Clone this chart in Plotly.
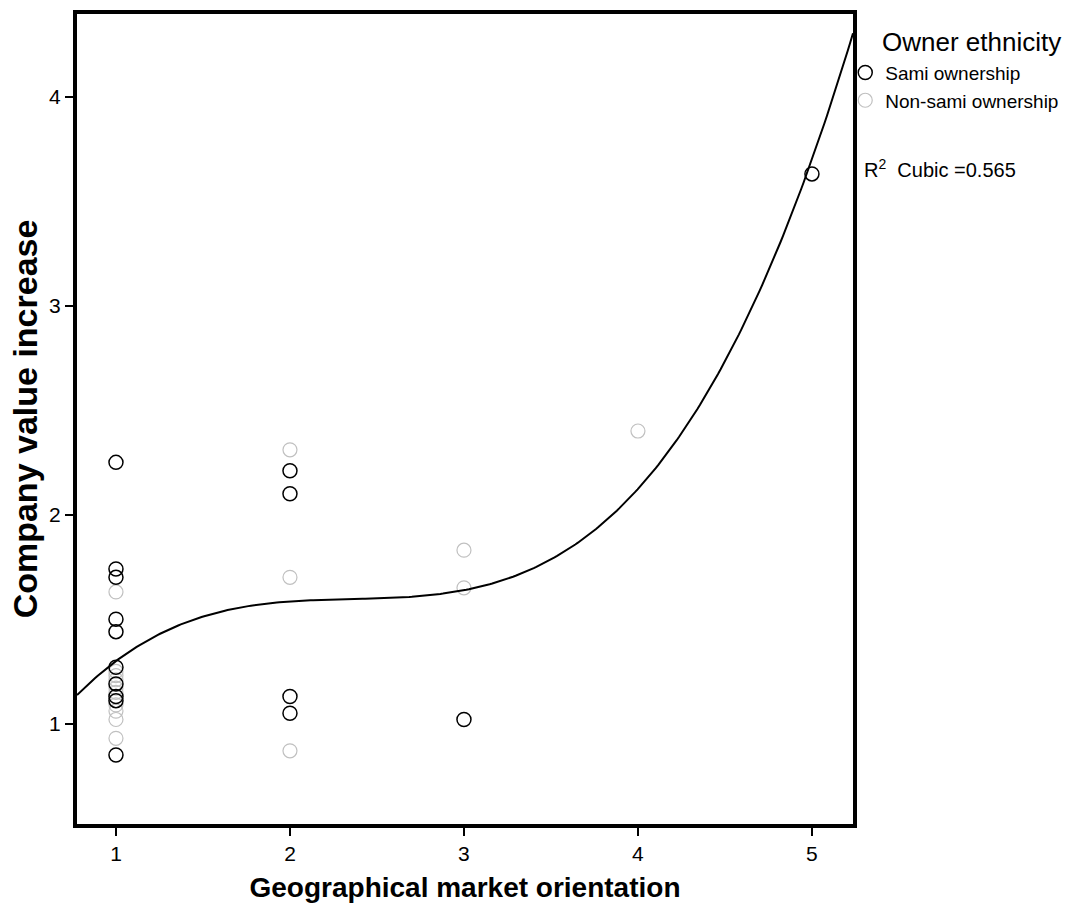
import numpy as np
import plotly.graph_objects as go

# Data
sami_x = [1, 1, 1, 1, 1, 1, 1, 1, 1, 1, 2, 2, 2, 2, 3, 5]
sami_y = [2.25, 1.74, 1.70, 1.50, 1.44, 1.27, 1.19, 1.13, 1.11, 0.85,
          2.21, 2.10, 1.13, 1.05, 1.02, 3.63]
nonsami_x = [1, 1, 1, 1, 1, 1, 1, 1, 1, 1, 2, 2, 2, 3, 3, 4]
nonsami_y = [1.63, 1.25, 1.23, 1.21, 1.17, 1.15, 1.09, 1.06, 1.02, 0.93,
             2.31, 1.70, 0.87, 1.83, 1.65, 2.40]
x_ticks = [1, 2, 3, 4, 5]
y_ticks = [1, 2, 3, 4]
r2_label = "R<sup>2</sup>  Cubic =0.565"

x_range = [0.776, 5.236]
y_range = [0.52, 4.395]

# Cubic fit (total population)
all_x = np.array(sami_x + nonsami_x, dtype=float)
all_y = np.array(sami_y + nonsami_y, dtype=float)
coef = np.polyfit(all_x, all_y, 3)
fit_x = np.linspace(x_range[0], x_range[1], 300)
fit_y = np.polyval(coef, fit_x)

FONT = "Arial, 'Liberation Sans', sans-serif"

fig = go.Figure()
fig.add_trace(go.Scatter(
    x=nonsami_x, y=nonsami_y, mode="markers", name="Non-sami ownership",
    marker=dict(symbol="circle-open", size=14, color="#c0c0c0",
                line=dict(width=1.2, color="#c0c0c0")),
    legendrank=2))
fig.add_trace(go.Scatter(
    x=sami_x, y=sami_y, mode="markers", name="Sami ownership",
    marker=dict(symbol="circle-open", size=14, color="#000000",
                line=dict(width=1.5, color="#000000")),
    legendrank=1))
fig.add_trace(go.Scatter(
    x=fit_x, y=fit_y, mode="lines", line=dict(color="#000000", width=2),
    showlegend=False, hoverinfo="skip"))

axis_common = dict(showline=True, linewidth=4, linecolor="#000000", mirror=True,
                   showgrid=False, zeroline=False, ticks="outside", ticklen=8,
                   tickwidth=2, tickcolor="#000000",
                   tickfont=dict(family=FONT, size=21, color="#000000"))

fig.update_layout(
    width=1075, height=910,
    margin=dict(l=77, r=222, t=10, b=86),
    paper_bgcolor="white", plot_bgcolor="white",
    font=dict(family=FONT, color="#000000"),
    xaxis=dict(range=x_range, tickvals=x_ticks,
               title=dict(text="<b>Geographical market orientation</b>",
                          font=dict(family=FONT, size=28, color="#000000"),
                          standoff=14),
               **axis_common),
    yaxis=dict(range=y_range, tickvals=y_ticks,
               title=dict(text="<b>Company value increase</b>",
                          font=dict(family=FONT, size=34, color="#000000"),
                          standoff=2),
               **axis_common),
    legend=dict(x=0.99, xanchor="left", y=0.951, yanchor="top",
                font=dict(family=FONT, size=19, color="#000000"),
                bgcolor="rgba(0,0,0,0)", itemwidth=30, tracegroupgap=0),
    annotations=[
        dict(text="Owner ethnicity", xref="paper", yref="paper",
             x=1.035, y=0.9656, xanchor="left", yanchor="middle",
             showarrow=False, font=dict(family=FONT, size=26, color="#000000")),
        dict(text=r2_label, xref="paper", yref="paper",
             x=1.0116, y=0.8096, xanchor="left", yanchor="middle",
             showarrow=False, font=dict(family=FONT, size=20, color="#000000")),
    ],
)

fig.write_html("out.html", config={"displayModeBar": False},
               post_script="document.body.style.margin='0';")
